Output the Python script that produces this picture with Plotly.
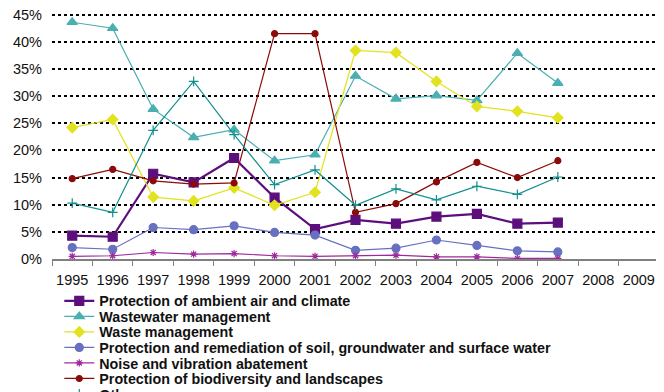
import plotly.graph_objects as go

years = [str(y) for y in range(1995, 2010)]
data_years = [str(y) for y in range(1995, 2008)]

ambient_air = [4.3, 4.1, 15.7, 14.1, 18.6, 11.3, 5.5, 7.2, 6.5, 7.8, 8.3, 6.5, 6.7]
wastewater = [43.6, 42.5, 27.6, 22.4, 23.8, 18.1, 19.2, 33.7, 29.5, 30.1, 29.2, 37.9, 32.4]
waste = [24.2, 25.7, 11.4, 10.7, 13.1, 9.9, 12.3, 38.4, 38.0, 32.7, 28.1, 27.2, 26.0]
soil = [2.1, 1.8, 5.8, 5.4, 6.1, 4.9, 4.4, 1.6, 2.0, 3.5, 2.5, 1.5, 1.3]
noise = [0.5, 0.6, 1.2, 0.9, 1.0, 0.6, 0.5, 0.6, 0.7, 0.4, 0.4, 0.1, 0.1]
biodiversity = [14.8, 16.5, 14.4, 13.8, 14.0, 41.5, 41.5, 8.6, 10.2, 14.2, 17.8, 15.0, 18.1]
other = [10.3, 8.6, 23.7, 32.7, 22.9, 13.7, 16.4, 9.9, 12.9, 10.9, 13.4, 11.9, 15.1]

y_ticks = [0, 5, 10, 15, 20, 25, 30, 35, 40, 45]

series = [
    ("Protection of ambient air and climate", ambient_air, "#5c0f7c", "square", 9, 2.2),
    ("Wastewater management", wastewater, "#4aafb0", "triangle-up", 9, 1.2),
    ("Waste management", waste, "#e2e21e", "diamond", 8, 1.2),
    ("Protection and remediation of soil, groundwater and surface water", soil, "#6870c0", "circle", 8, 1.2),
    ("Noise and vibration abatement", noise, "#a0289e", "asterisk-open", 6, 1.2),
    ("Protection of biodiversity and landscapes", biodiversity, "#8b0a0a", "circle", 6, 1.2),
    ("Other", other, "#12908f", "cross-thin-open", 7, 1.2),
]

# Figure sized for the 8px default page margin of the HTML body
W, H = 656, 384
ML, MR, MT, MB = 44, 5, 5.37, 133
plot_h = H - MT - MB
row_gap = 15.5   # legend row spacing in px
first_row = 42   # first legend row center, px below the x axis

fig = go.Figure()
layout_legends = {}
for i, (name, vals, color, sym, size, lw) in enumerate(series):
    lid = "legend" if i == 0 else f"legend{i + 1}"
    fig.add_trace(go.Scatter(
        x=data_years, y=vals, name=name, mode="lines+markers",
        line=dict(color=color, width=lw),
        marker=dict(symbol=sym, size=size, color=color,
                    line=dict(color=color, width=1.2)),
        legend=lid,
    ))
    layout_legends[lid] = dict(
        x=0.012, y=-(first_row + i * row_gap) / plot_h,
        xanchor="left", yanchor="middle",
        orientation="v", bgcolor="rgba(0,0,0,0)",
        font=dict(size=14.3, weight="bold", color="#111111"),
        itemwidth=30,
    )

fig.update_layout(
    width=W, height=H,
    margin=dict(l=ML, r=MR, t=MT, b=MB, autoexpand=False),
    paper_bgcolor="white", plot_bgcolor="white",
    font=dict(family="Liberation Sans, Arial, sans-serif", size=14, color="#111111"),
    showlegend=True,
    xaxis=dict(
        type="category", categoryorder="array", categoryarray=years,
        range=[-0.5, len(years) - 0.5],
        tickmode="array", tickvals=years, ticktext=years,
        tickson="boundaries", ticks="outside", ticklen=5, tickcolor="#808080",
        showline=True, linecolor="#808080", linewidth=1.5,
        showgrid=False, zeroline=False, tickangle=0,
        ticklabelstandoff=7, ticklabeloverflow="allow",
        tickfont=dict(size=14.5, color="#111111"),
    ),
    yaxis=dict(
        range=[0, 45.3], tickmode="array", tickvals=y_ticks,
        ticktext=[f"{v}%" for v in y_ticks],
        showgrid=True, gridcolor="black", gridwidth=2, griddash="dot",
        zeroline=False, showline=False, ticks="",
        ticklabelstandoff=9, ticklabeloverflow="allow",
        tickfont=dict(size=14.5, color="#111111"),
    ),
    **layout_legends,
)

fig.write_html("out.html")
